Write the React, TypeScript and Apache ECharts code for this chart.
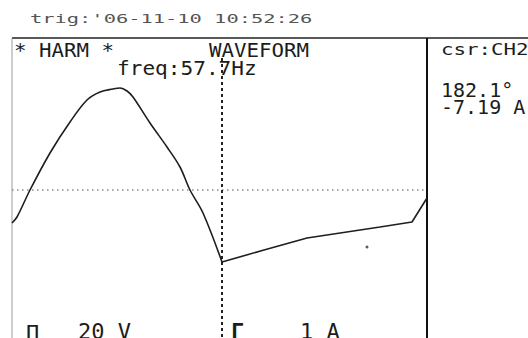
import React, { useEffect, useRef } from "react";
import * as echarts from "echarts";

// Sampled waveform (time in ms, amplitude in display units)
const timeMs = [0, 0.25, 0.9, 1.9, 2.9, 3.75, 4.4, 5.05, 5.4, 5.75, 6.05, 6.9, 7.75, 8.4, 8.9, 9.55, 10.5, 12.6, 14.75, 18.4, 20.0, 20.75];
const amplitude = [-8.25, -6.75, 0, 9.25, 17, 22.5, 24.5, 25.25, 25.5, 24.75, 23.25, 16.75, 10.75, 5.75, 0, -5.75, -18, -15, -12, -9.25, -8, -2];
const cursorTime = 10.5;
const strayPoint = [[17.75, -14.25]];

const headerText = "trig:'06-11-10 10:52:26";
const titleLeft = "* HARM *";
const titleRight = "WAVEFORM";
const freqLabel = "freq:57.7Hz";
const cursorLabel = "csr:CH2";
const cursorPhase = "182.1°";
const cursorValue = "-7.19 A";
const ch1Symbol = "Π";
const ch1Scale = "20 V";
const ch2Symbol = "Γ";
const ch2Scale = "1 A";

const MONO = "'DejaVu Sans Mono', monospace";

function txt(text: string, x: number, y: number, fontSize: number, extra: any = {}) {
  const { scaleY = 1, fill = "#1c1c1c", fontWeight = "normal" } = extra;
  return {
    type: "text",
    x,
    y,
    scaleY,
    silent: true,
    style: {
      text,
      fontFamily: MONO,
      fontSize,
      fontWeight,
      fill,
      align: "left",
      verticalAlign: "middle",
      textAlign: "left",
      textVerticalAlign: "middle",
    },
  };
}

export default function App() {
  const ref = useRef<HTMLDivElement>(null);
  useEffect(() => {
    if (!ref.current) return;
    const chart = echarts.init(ref.current, null, { renderer: "svg" });
    const points = timeMs.map((t, i) => [t, amplitude[i]]);
    const splitIdx = timeMs.indexOf(cursorTime);
    const arc = points.slice(0, splitIdx + 1);
    const tail = points.slice(splitIdx);
    const lineStyle = { color: "#1e1e1e", width: 1.6 };
    chart.setOption({
      animation: false,
      backgroundColor: "#ffffff",
      grid: { left: 12, top: 38, width: 415, height: 300 },
      xAxis: { type: "value", min: 0, max: 20.75, show: false },
      yAxis: { type: "value", min: -37, max: 38, show: false },
      series: [
        {
          type: "line",
          data: arc,
          symbol: "none",
          smooth: 0.35,
          lineStyle,
          markLine: {
            silent: true,
            symbol: ["none", "none"],
            label: { show: false },
            data: [
              { yAxis: 0, lineStyle: { type: [1.5, 3.5], color: "#8a8a8a", width: 1.5 } },
              [
                { coord: [cursorTime, 33], lineStyle: { type: [3, 3], color: "#222", width: 2 } },
                { coord: [cursorTime, -37] },
              ],
            ],
          },
        },
        {
          type: "line",
          data: tail,
          symbol: "none",
          lineStyle,
        },
        {
          type: "scatter",
          data: strayPoint,
          symbolSize: 3,
          itemStyle: { color: "#333" },
        },
      ],
      graphic: [
        { type: "line", silent: true, shape: { x1: 12, y1: 38, x2: 528, y2: 38 }, style: { stroke: "#222", lineWidth: 1.5 } },
        { type: "line", silent: true, shape: { x1: 12, y1: 38, x2: 12, y2: 338 }, style: { stroke: "#9a9a9a", lineWidth: 1 } },
        { type: "line", silent: true, shape: { x1: 427, y1: 38, x2: 427, y2: 338 }, style: { stroke: "#111", lineWidth: 2 } },
        txt(headerText, 30, 18.5, 20.4, { scaleY: 0.6, fill: "#555" }),
        txt(titleLeft, 14, 50, 20.8, { scaleY: 0.92 }),
        txt(titleRight, 209, 50, 20.8, { scaleY: 0.92 }),
        txt(freqLabel, 117, 68, 21.1, { scaleY: 0.92 }),
        txt(cursorLabel, 441, 49, 20.8, { scaleY: 0.8 }),
        txt(cursorPhase, 441, 89.5, 20),
        txt(cursorValue, 441, 107, 20),
        txt(ch1Symbol, 26, 333, 22),
        txt(ch1Scale, 78, 331, 22),
        txt(ch2Symbol, 231, 331, 22, { fontWeight: "bold" }),
        txt(ch2Scale, 300, 331, 22),
      ],
    });
    return () => chart.dispose();
  }, []);
  return (
    <div
      ref={ref}
      style={{ position: "absolute", left: 0, top: 0, width: 528, height: 338, background: "#fff" }}
    />
  );
}
